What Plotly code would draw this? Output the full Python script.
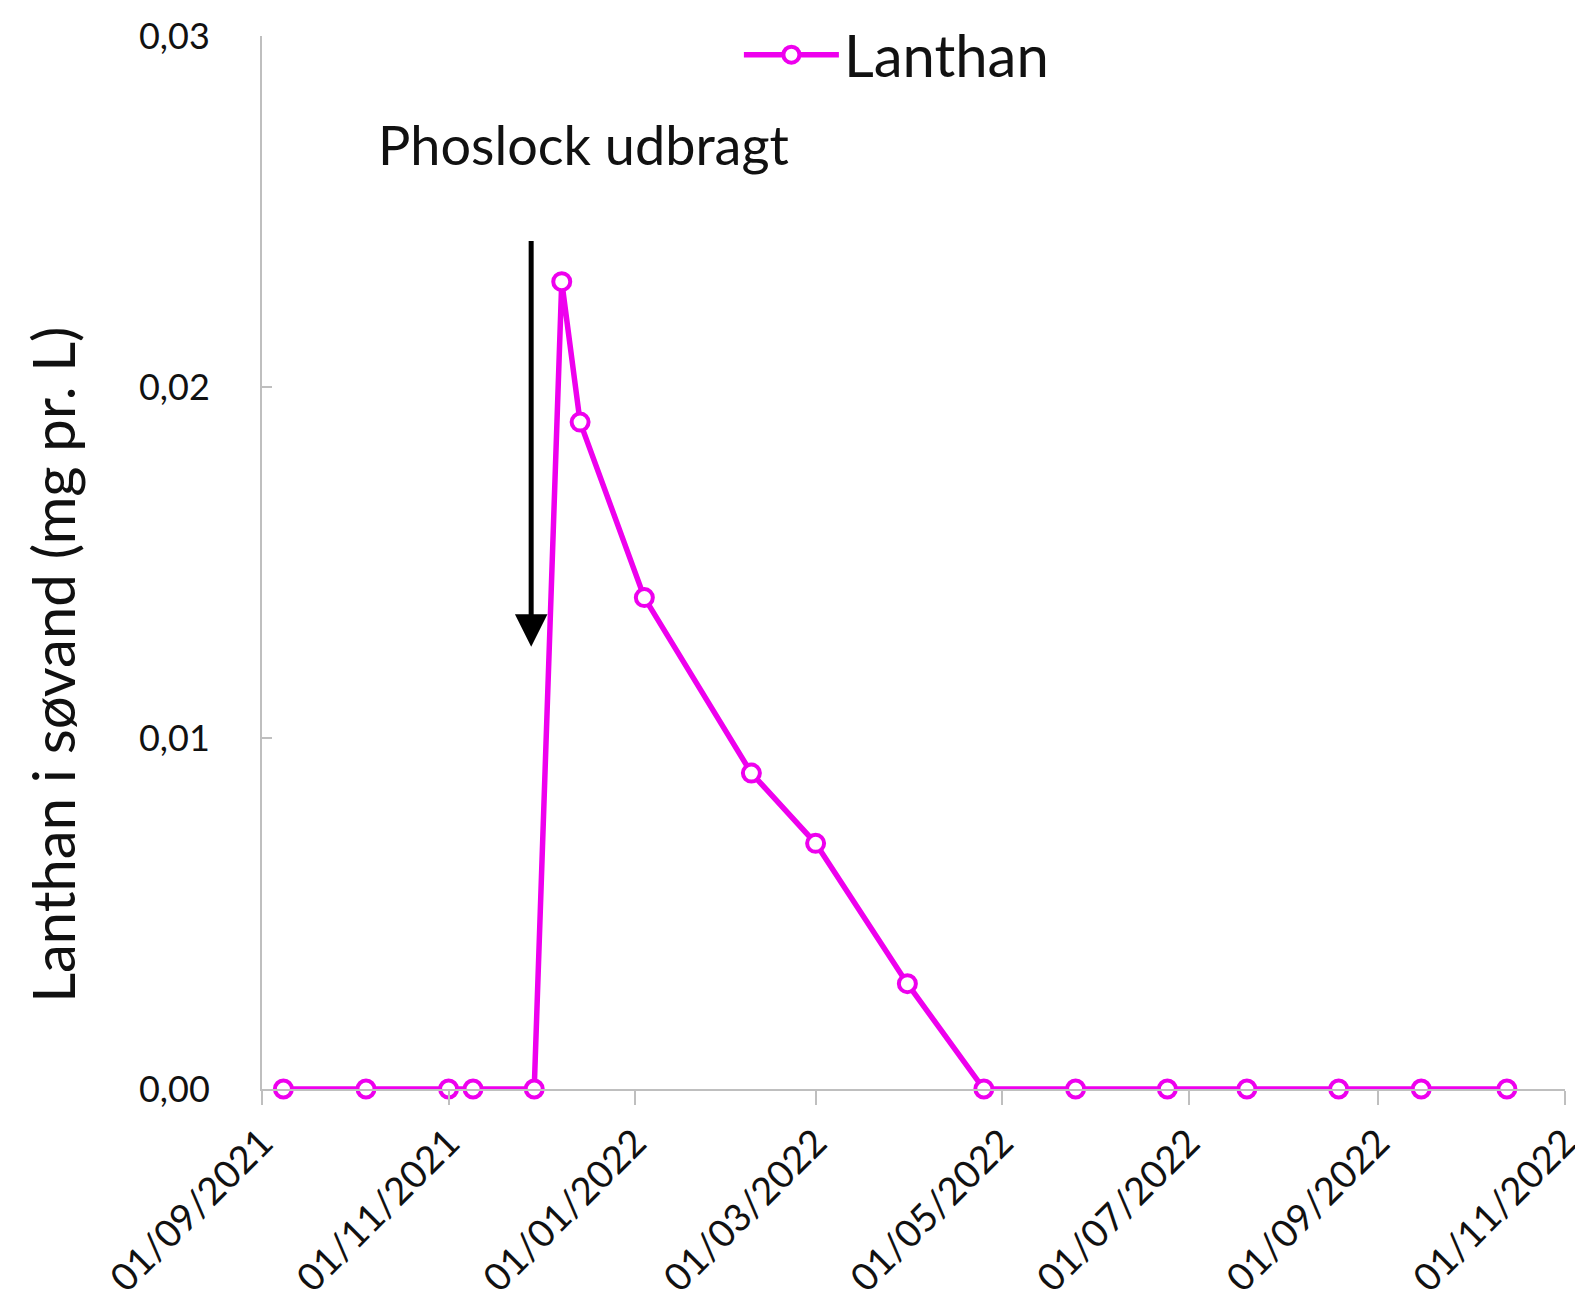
import plotly.graph_objects as go

dates = ["2021-09-08", "2021-10-05", "2021-11-01", "2021-11-09", "2021-11-29",
         "2021-12-08", "2021-12-14", "2022-01-04", "2022-02-08", "2022-03-01",
         "2022-03-31", "2022-04-25", "2022-05-25", "2022-06-24", "2022-07-20",
         "2022-08-19", "2022-09-15", "2022-10-13"]
lanthan = [0, 0, 0, 0, 0, 0.023, 0.019, 0.014, 0.009, 0.007, 0.003, 0, 0, 0, 0, 0, 0, 0]

x_tick_vals = ["2021-09-01", "2021-11-01", "2022-01-01", "2022-03-01", "2022-05-01",
               "2022-07-01", "2022-09-01", "2022-11-01"]
x_tick_text = ["01/09/2021", "01/11/2021", "01/01/2022", "01/03/2022", "01/05/2022",
               "01/07/2022", "01/09/2022", "01/11/2022"]
y_tick_vals = [0, 0.01, 0.02, 0.03]

arrow_date = "2021-11-28"
arrow_top, arrow_tip = 0.0242, 0.0126
label_date, label_y = "2021-12-15", 0.0269

MAGENTA = "#EE00EE"
AXIS = "#BFBFBF"
FONT = "Lato"
TXT = "#111111"

fig = go.Figure()
fig.add_trace(go.Scatter(
    x=dates, y=lanthan, mode="lines+markers", name="Lanthan",
    line=dict(color=MAGENTA, width=5.5),
    marker=dict(symbol="circle", size=17, color="white",
                line=dict(color=MAGENTA, width=4)),
    cliponaxis=False,
))

fig.add_annotation(
    x=arrow_date, y=arrow_tip, ax=arrow_date, ay=arrow_top,
    xref="x", yref="y", axref="x", ayref="y",
    showarrow=True, arrowhead=2, arrowsize=1.3, arrowwidth=5, arrowcolor="black",
    text="",
)
fig.add_annotation(
    x=label_date, y=label_y, xref="x", yref="y", text="Phoslock udbragt",
    showarrow=False, font=dict(family=FONT, size=54, color=TXT),
)
fig.add_annotation(
    x=-0.161, y=0.403, xref="paper", yref="paper",
    xanchor="center", yanchor="middle",
    text="Lanthan i søvand (mg pr. L)", textangle=-90, showarrow=False,
    font=dict(family=FONT, size=58, color=TXT),
)

fig.update_layout(
    width=1575, height=1305,
    margin=dict(l=254, r=18, t=28, b=224, autoexpand=False),
    paper_bgcolor="white", plot_bgcolor="white",
    separators=", ",
    font=dict(family=FONT, color=TXT),
    showlegend=True,
    legend=dict(
        xref="paper", yref="paper",
        x=0.366, y=0.982, xanchor="left", yanchor="middle",
        font=dict(family=FONT, size=58, color=TXT),
        bgcolor="rgba(0,0,0,0)", itemwidth=95,
    ),
)
fig.update_xaxes(
    type="date", range=["2021-09-01", "2022-11-01"],
    tickvals=x_tick_vals, ticktext=x_tick_text, tickangle=-45,
    tickfont=dict(family=FONT, size=38, color=TXT),
    ticklabeloverflow="allow",
    showgrid=False, zeroline=False,
    showline=True, linecolor=AXIS, linewidth=2,
    ticks="outside", ticklen=14, tickcolor=AXIS, tickwidth=2,
)
fig.update_yaxes(
    range=[0, 0.03], tickvals=y_tick_vals, tickformat=".2f",
    tickfont=dict(family=FONT, size=36, color=TXT),
    showgrid=False, zeroline=False,
    showline=True, linecolor=AXIS, linewidth=2,
    ticks="inside", ticklen=10, tickcolor=AXIS, tickwidth=2,
    ticklabelstandoff=43,
)

fig.write_html("out.html")
